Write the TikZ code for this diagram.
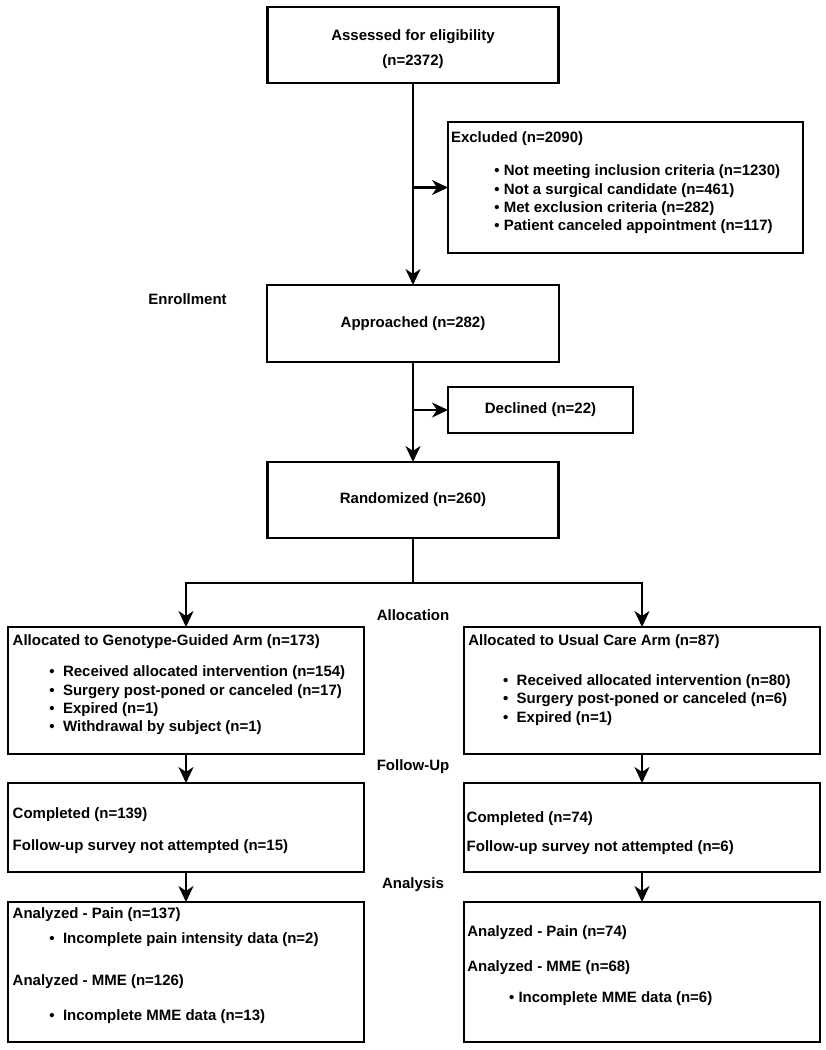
\documentclass[tikz,border=0pt]{standalone}
\usepackage{fontspec}
\setmainfont{Liberation Sans}
\usetikzlibrary{arrows.meta}
\newcommand{\wbul}{•\hspace{8.4pt}}
\newcommand{\nbul}{•\ }
\begin{document}
\begin{tikzpicture}[x=1pt,y=-1pt,
  every node/.style={font=\bfseries\fontsize{15}{18.3}\selectfont, inner sep=0pt, outer sep=0pt},
  box/.style={draw, line width=2.8pt, rectangle, inner sep=0pt, align=center},
  txt/.style={anchor=west, align=left},
  conn/.style={line width=2.3pt, -{Stealth[length=16pt,width=15pt,inset=5pt]}},
  wire/.style={line width=2.3pt}]
\useasboundingbox (0,0) rectangle (826,1050);

% boxes
\node[box, minimum width=291pt, minimum height=76pt] (assess) at (413,45) {};
\node[align=center] (assesstxt) at (413,49.5) {Assessed for eligibility\\[6.7pt](n=2372)};
\node[box, minimum width=355pt, minimum height=131pt] (excl) at (625.5,187.5) {};
\node[box, minimum width=292pt, minimum height=77pt] (appr) at (413,323.5) {Approached (n=282)};
\node[box, minimum width=185pt, minimum height=46pt] (decl) at (540.5,410) {Declined (n=22)};
\node[box, minimum width=291pt, minimum height=76pt] (rand) at (413,500) {Randomized (n=260)};
\node[box, minimum width=356pt, minimum height=127pt] (allocL) at (186,690.5) {};
\node[box, minimum width=356pt, minimum height=127pt] (allocR) at (642,690.5) {};
\node[box, minimum width=356pt, minimum height=89pt] (compL) at (186,827.5) {};
\node[box, minimum width=356pt, minimum height=89pt] (compR) at (642,827.5) {};
\node[box, minimum width=356pt, minimum height=140pt] (anaL) at (186,972) {};
\node[box, minimum width=356pt, minimum height=140pt] (anaR) at (642,972) {};

% box texts
\node[txt] (exclT) at (451,139) {Excluded (n=2090)};
\node[txt] (exclB) at (494.4,199.5) {\nbul Not meeting inclusion criteria (n=1230)\\\nbul Not a surgical candidate (n=461)\\\nbul Met exclusion criteria (n=282)\\\nbul Patient canceled appointment (n=117)};

\node[txt] (allocLT) at (12.7,642) {Allocated to Genotype-Guided Arm (n=173)};
\node[txt] (allocLB) at (49.4,700.5) {\wbul Received allocated intervention (n=154)\\\wbul Surgery post-poned or canceled (n=17)\\\wbul Expired (n=1)\\\wbul Withdrawal by subject (n=1)};
\node[txt] (allocRT) at (468.3,642) {Allocated to Usual Care Arm (n=87)};
\node[txt] (allocRB) at (503.1,700) {\wbul Received allocated intervention (n=80)\\\wbul Surgery post-poned or canceled (n=6)\\\wbul Expired (n=1)};

\node[txt] (compL1) at (12.7,815) {Completed (n=139)};
\node[txt] (compL2) at (12.7,847) {Follow-up survey not attempted (n=15)};
\node[txt] (compR1) at (466.7,819) {Completed (n=74)};
\node[txt] (compR2) at (466.7,848) {Follow-up survey not attempted (n=6)};

\node[txt] (anaL1) at (12.7,915) {Analyzed - Pain (n=137)};
\node[txt] (anaL2) at (49.4,940) {\wbul Incomplete pain intensity data (n=2)};
\node[txt] (anaL3) at (12.7,982) {Analyzed - MME (n=126)};
\node[txt] (anaL4) at (49.4,1017) {\wbul Incomplete MME data (n=13)};
\node[txt] (anaR1) at (467.3,933) {Analyzed - Pain (n=74)};
\node[txt] (anaR2) at (467.3,968) {Analyzed - MME (n=68)};
\node[txt] (anaR3) at (509.1,999) {\nbul Incomplete MME data (n=6)};

% stage labels
\node (enroll) at (187.5,299) {Enrollment};
\node (allocation) at (413,615) {Allocation};
\node (followup) at (413,767) {Follow-Up};
\node (analysis) at (413,885) {Analysis};

% connectors
\draw[conn] (assess.south) -- (appr.north);
\draw[conn] (assess.south |- excl.west) -- (excl.west);
\draw[conn] (appr.south) -- (rand.north);
\draw[conn] (appr.south |- decl.west) -- (decl.west);
\coordinate (split) at (413,583);
\draw[wire] (rand.south) -- (split);
\draw[conn] (split) -| (allocL.north);
\draw[conn] (split) -| (allocR.north);
\draw[conn] (allocL.south) -- (compL.north);
\draw[conn] (allocR.south) -- (compR.north);
\draw[conn] (compL.south) -- (anaL.north);
\draw[conn] (compR.south) -- (anaR.north);
\end{tikzpicture}
\end{document}
